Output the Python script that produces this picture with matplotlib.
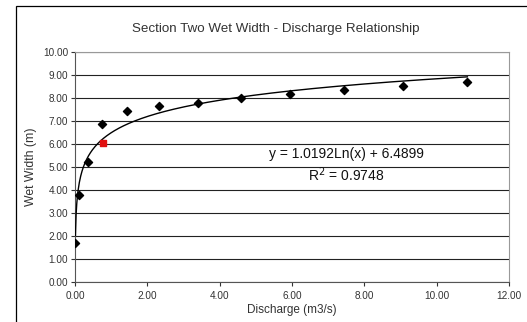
import numpy as np
import matplotlib
matplotlib.use('Agg')
import matplotlib.pyplot as plt
from matplotlib.patches import Rectangle

plt.rcParams['font.family'] = ['Liberation Sans', 'DejaVu Sans']

# measured points
discharge = [0.01, 0.11, 0.36, 0.76, 1.44, 2.33, 3.39, 4.60, 5.94, 7.45, 9.07, 10.85]
wet_width = [1.71, 3.78, 5.20, 6.87, 7.45, 7.65, 7.80, 7.99, 8.16, 8.35, 8.52, 8.71]
# highlighted point
red_x = [0.77]
red_y = [6.04]
# log trendline coefficients
coef_a = 1.0192
coef_b = 6.4899

fig = plt.figure(figsize=(5.27, 3.22), dpi=100)
fig.patches.append(Rectangle((16/527, -0.1), 1.2, 1 - 6/322 + 0.1, transform=fig.transFigure,
                             fill=False, edgecolor='black', linewidth=0.9))

ax = fig.add_axes([75/527, 1 - 282/322, 434/527, 230/322])

xs = np.linspace(0.0125, max(discharge), 600)
ax.plot(xs, coef_a * np.log(xs) + coef_b, color='black', linewidth=1.0, zorder=3)
ax.scatter(discharge, wet_width, marker='D', s=17, color='black', zorder=4)
ax.scatter(red_x, red_y, marker='s', s=24, color='#e01010', zorder=5)

ax.set_xlim(0, 12)
ax.set_ylim(0, 10)
ax.set_xticks(np.arange(0, 12.1, 2))
ax.set_yticks(np.arange(0, 10.1, 1))
ax.set_xticklabels(['%.2f' % v for v in np.arange(0, 12.1, 2)])
ax.set_yticklabels(['%.2f' % v for v in np.arange(0, 10.1, 1)])
ax.tick_params(labelsize=7.2, length=3, width=0.8, colors='#333333', labelcolor='#333333')
ax.tick_params(axis='y', pad=2)
ax.yaxis.grid(True, color='#222222', linewidth=0.8)
ax.set_axisbelow(True)

for side in ['top', 'right']:
    ax.spines[side].set_color('#999999')
for side in ['left', 'bottom']:
    ax.spines[side].set_color('#555555')

fig.text(276/527, 1 - 29/322, 'Section Two Wet Width - Discharge Relationship', fontsize=9.6,
         color='#333333', ha='center', va='center')
ax.set_xlabel('Discharge (m3/s)', fontsize=8.5, color='#333333', labelpad=2)
ax.set_ylabel('Wet Width (m)', fontsize=8.8, color='#333333', labelpad=4)

ax.text(7.5, 5.55, 'y = 1.0192Ln(x) + 6.4899', fontsize=10, ha='center', va='center', color='#111111')
ax.text(7.5, 4.68, 'R$^2$ = 0.9748', fontsize=10, ha='center', va='center', color='#111111')

fig.savefig('out.png', dpi=100)
